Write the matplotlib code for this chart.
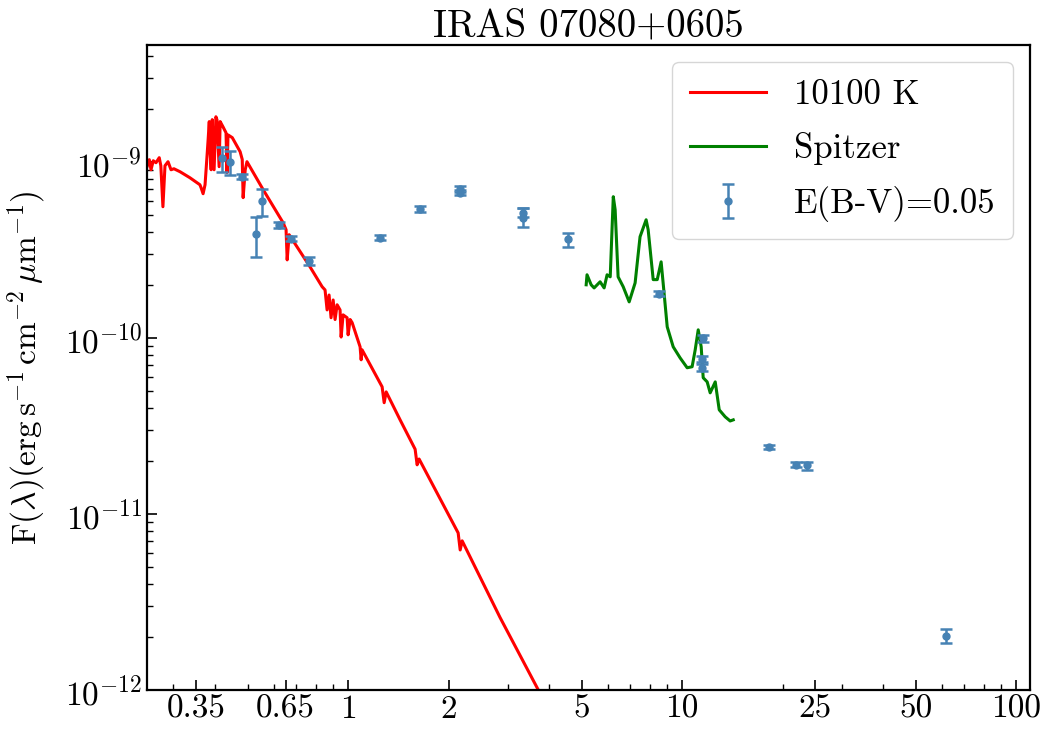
import numpy as np
import matplotlib
matplotlib.use('Agg')
from matplotlib import pyplot as plt
from matplotlib.ticker import FixedLocator, FixedFormatter, LogLocator, NullFormatter

plt.rcParams['font.family'] = 'serif'
plt.rcParams['font.serif'] = ['cmr10']
plt.rcParams['mathtext.fontset'] = 'cm'
plt.rcParams['axes.formatter.use_mathtext'] = True
plt.rcParams['axes.unicode_minus'] = False

# model spectrum, 10100 K (wavelength in micron, flux in 1e-10 erg/s/cm2/um)
model_wl = [0.250, 0.254, 0.257, 0.261, 0.266, 0.272, 0.275, 0.279, 0.283, 0.289,
            0.295, 0.301, 0.314, 0.336, 0.360, 0.363, 0.368, 0.373, 0.378, 0.381,
            0.384, 0.386, 0.389, 0.392, 0.397, 0.402, 0.405, 0.411, 0.414, 0.422,
            0.431, 0.434, 0.437, 0.450, 0.475, 0.482, 0.485, 0.492, 0.498, 0.557,
            0.639, 0.652, 0.657, 0.666, 0.769, 0.836, 0.853, 0.865, 0.877, 0.889,
            0.902, 0.914, 0.927, 0.946, 0.953, 0.966, 0.993, 1.000, 1.014, 1.028,
            1.086, 1.094, 1.101, 1.264, 1.282, 1.300, 1.431, 1.587, 1.609, 1.631,
            2.135, 2.165, 2.195, 2.85, 3.71, 4.0]
model_flux = [9.37, 10.27, 9.0, 10.13, 9.87, 10.54, 9.49, 5.55, 9.49, 10.0,
              9.0, 9.12, 8.77, 8.11, 7.40, 7.11, 6.58, 7.40, 10.68, 13.34,
              16.9, 11.7, 9.0, 17.34, 9.0, 18.0, 17.3, 9.37, 16.9, 15.8,
              14.6, 8.66, 14.2, 13.7, 11.4, 10.3, 6.25, 9.0, 10.0, 6.93,
              4.50, 4.11, 2.77, 3.85, 2.53, 1.95, 1.87, 1.44, 1.75, 1.30,
              1.64, 1.27, 1.54, 1.44, 1.01, 1.35, 1.30, 1.04, 1.27, 1.22,
              0.889, 0.75, 0.855, 0.527, 0.428, 0.493, 0.342, 0.233, 0.190, 0.205,
              0.078, 0.0624, 0.0703, 0.0258, 0.0100, 0.00755]

# Spitzer IRS spectrum
irs_wl = [5.16, 5.19, 5.34, 5.45, 5.68, 5.84, 5.96, 6.09, 6.22, 6.30,
          6.43, 6.66, 6.94, 7.23, 7.48, 7.80, 7.91, 8.19, 8.42, 8.65,
          8.77, 9.02, 9.40, 9.86, 10.35, 10.71, 10.94, 11.17, 11.40, 11.56,
          11.88, 12.13, 12.56, 12.91, 13.45, 13.92, 14.22]
irs_flux = [2.00, 2.28, 2.00, 1.92, 2.08, 1.92, 2.28, 2.22, 6.33, 5.34,
            2.22, 1.95, 1.60, 2.05, 3.75, 4.68, 4.11, 2.14, 2.14, 2.70,
            2.05, 1.155, 0.889, 0.769, 0.676, 0.685, 0.855, 1.11, 0.889, 0.593,
            0.562, 0.487, 0.562, 0.390, 0.356, 0.337, 0.342]

# photometry, dereddened with E(B-V)=0.05
phot_wl = [0.420, 0.443, 0.482, 0.530, 0.553, 0.621, 0.675, 0.764, 1.247, 1.643,
           2.165, 2.165, 3.34, 3.34, 4.56, 8.53, 11.56, 11.5, 11.5, 18.2,
           21.9, 23.7, 61.7]
phot_flux = [10.54, 10.0, 8.22, 3.90, 6.00, 4.38, 3.65, 2.74, 3.70, 5.41,
             7.02, 6.67, 5.13, 4.81, 3.65, 1.78, 1.00, 0.76, 0.676, 0.240,
             0.190, 0.190, 0.0203]
err_lo = [1.77, 1.57, 0.25, 1.02, 1.07, 0.15, 0.12, 0.14, 0.12, 0.2,
          0.25, 0.2, 0.3, 0.54, 0.36, 0.06, 0.05, 0.03, 0.03, 0.006,
          0.006, 0.013, 0.0017]
err_hi = [1.63, 1.55, 0.25, 0.97, 1.03, 0.15, 0.12, 0.14, 0.12, 0.2,
          0.25, 0.2, 0.3, 0.67, 0.30, 0.06, 0.04, 0.03, 0.03, 0.006,
          0.006, 0.008, 0.0019]

xticks = [0.35, 0.65, 1, 2, 5, 10, 25, 50, 100]
xticklabels = ['0.35', '0.65', '1', '2', '5', '10', '25', '50', '100']

scale = 1e-10

fig = plt.figure(figsize=(10.5, 7.5), dpi=100)
ax = fig.add_axes([0.14, 0.08, 0.841, 0.86])

ax.plot(model_wl, np.array(model_flux) * scale, color='red', lw=2.2, label='10100 K')
ax.plot(irs_wl, np.array(irs_flux) * scale, color='green', lw=2.2, label='Spitzer')
ax.errorbar(phot_wl, np.array(phot_flux) * scale,
            yerr=[np.array(err_lo) * scale, np.array(err_hi) * scale],
            fmt='o', color='steelblue', ms=5, capsize=4, elinewidth=1.8,
            capthick=1.8, label='E(B-V)=0.05')

ax.set_xscale('log')
ax.set_yscale('log')
ax.set_xlim(0.25, 110)
ax.set_ylim(1e-12, 4.6e-9)

ax.xaxis.set_major_locator(FixedLocator(xticks))
ax.xaxis.set_major_formatter(FixedFormatter(xticklabels))
ax.xaxis.set_minor_locator(LogLocator(base=10, subs=np.arange(2, 10)))
ax.xaxis.set_minor_formatter(NullFormatter())

ax.tick_params(which='both', direction='in', labelsize=24)
ax.tick_params(which='major', length=7, width=1.2)
ax.tick_params(which='minor', length=4, width=1.0)
for sp in ax.spines.values():
    sp.set_linewidth(1.6)

ax.set_ylabel(r'F$(\lambda)$(erg$\,$s$^{-1}\,$cm$^{-2}\,\mu$m$^{-1}$)',
              fontsize=24, labelpad=12)
ax.set_title('IRAS 07080+0605', fontsize=28, pad=6)

ax.legend(loc='upper right', fontsize=25, handlelength=2.2, labelspacing=0.6,
          borderpad=0.5)

plt.savefig('out.png', dpi=100)
